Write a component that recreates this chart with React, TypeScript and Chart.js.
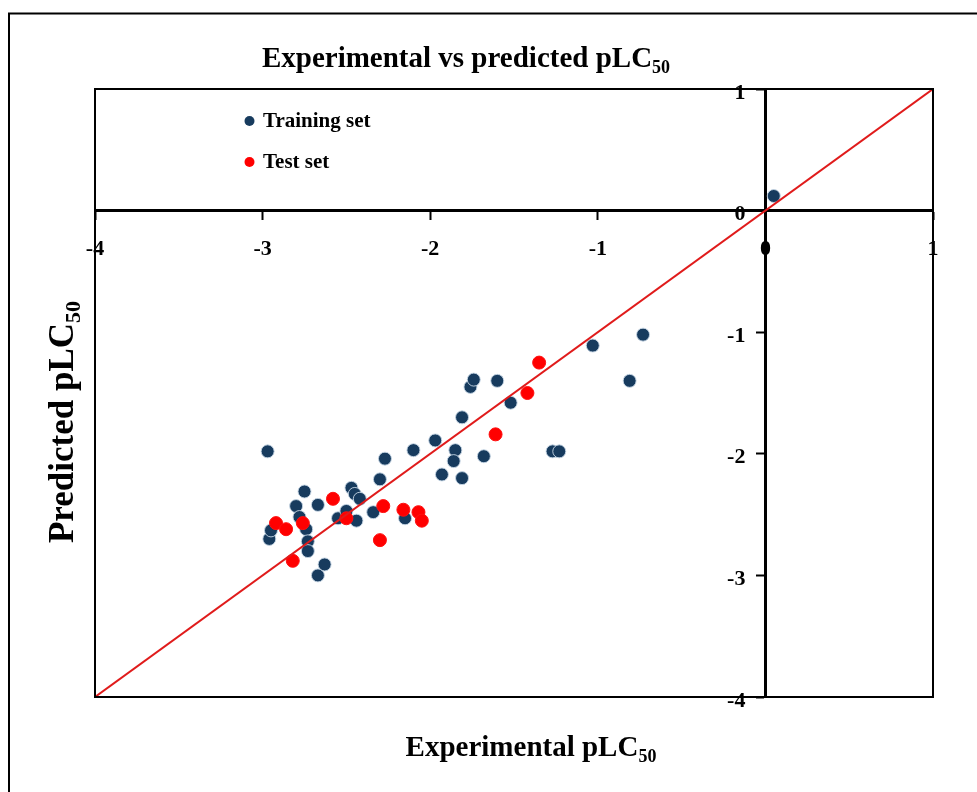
import React, { useEffect, useRef } from "react";
import { Chart, registerables } from "chart.js";

Chart.register(...registerables);

const FONT = '"Liberation Serif", "Times New Roman", Times, serif';

const trainingX = [-2.97, -2.96, -2.95, -2.8, -2.75, -2.78, -2.74, -2.73, -2.73, -2.67, -2.67, -2.63, -2.55, -2.5, -2.47, -2.45, -2.42, -2.44, -2.34, -2.3, -2.27, -2.15, -2.1, -1.97, -1.93, -1.85, -1.86, -1.81, -1.81, -1.76, -1.74, -1.68, -1.6, -1.52, -1.27, -1.23, -1.03, -0.81, -0.73, 0.05];
const trainingY = [-1.98, -2.7, -2.63, -2.43, -2.31, -2.52, -2.62, -2.72, -2.8, -2.42, -3.0, -2.91, -2.53, -2.47, -2.28, -2.33, -2.37, -2.55, -2.48, -2.21, -2.04, -2.53, -1.97, -1.89, -2.17, -1.97, -2.06, -2.2, -1.7, -1.45, -1.39, -2.02, -1.4, -1.58, -1.98, -1.98, -1.11, -1.4, -1.02, 0.12];

const testX = [-2.92, -2.86, -2.76, -2.82, -2.58, -2.5, -2.28, -2.3, -2.16, -2.07, -2.05, -1.61, -1.42, -1.35];
const testY = [-2.57, -2.62, -2.57, -2.88, -2.37, -2.53, -2.43, -2.71, -2.46, -2.48, -2.55, -1.84, -1.5, -1.25];

const idealX = [-4, 1];
const idealY = [-4, 1];

const axisMin = -4;
const axisMax = 1;
const tickStep = 1;

const seriesNames = ["Training set", "Test set"];
const chartTitle = ["Experimental vs predicted pLC", "50"];
const xTitle = ["Experimental pLC", "50"];
const yTitle = ["Predicted pLC", "50"];

function drawSubText(ctx: CanvasRenderingContext2D, parts: string[], size: number, subSize: number, subDrop: number) {
  ctx.font = `bold ${size}px ${FONT}`;
  const w1 = ctx.measureText(parts[0]).width;
  ctx.font = `bold ${subSize}px ${FONT}`;
  const w2 = ctx.measureText(parts[1]).width;
  const total = w1 + w2;
  ctx.textAlign = "left";
  ctx.textBaseline = "alphabetic";
  ctx.font = `bold ${size}px ${FONT}`;
  ctx.fillText(parts[0], -total / 2, 0);
  ctx.font = `bold ${subSize}px ${FONT}`;
  ctx.fillText(parts[1], -total / 2 + w1, subDrop);
}

const decorPlugin = {
  id: "decor",
  beforeDraw(chart: any) {
    const ctx = chart.ctx as CanvasRenderingContext2D;
    ctx.save();
    ctx.fillStyle = "#ffffff";
    ctx.fillRect(0, 0, chart.width, chart.height);
    ctx.strokeStyle = "#000";
    ctx.lineWidth = 2;
    ctx.beginPath();
    ctx.moveTo(9, chart.height);
    ctx.lineTo(9, 13.5);
    ctx.lineTo(chart.width, 13.5);
    ctx.stroke();
    ctx.restore();
    // shift y tick labels left of the crossing axis
    const ys = chart.scales.y;
    if (ys && ys.getLabelItems) {
      const items = ys.getLabelItems();
      if (!ys.__shifted) {
        for (const it of items) {
          if (it.options && it.options.translation) {
            it.options.translation[0] -= 20;
            it.options.translation[1] += 4;
          }
        }
        ys.__shifted = true;
      }
    }
  },
  afterDraw(chart: any) {
    const ctx = chart.ctx as CanvasRenderingContext2D;
    const a = chart.chartArea;
    ctx.save();
    ctx.strokeStyle = "#000";
    ctx.lineWidth = 2;
    ctx.strokeRect(a.left, a.top, a.right - a.left, a.bottom - a.top);

    ctx.fillStyle = "#000";
    ctx.save();
    ctx.translate(466, 67);
    drawSubText(ctx, chartTitle, 29, 18, 6);
    ctx.restore();
    ctx.save();
    ctx.translate(531, 756);
    drawSubText(ctx, xTitle, 29, 18, 6);
    ctx.restore();
    ctx.save();
    ctx.translate(73, 422);
    ctx.rotate(-Math.PI / 2);
    drawSubText(ctx, yTitle, 35, 22, 7);
    ctx.restore();

    const ds = chart.data.datasets;
    const rows = [121, 162];
    for (let i = 0; i < 2; i++) {
      ctx.beginPath();
      ctx.fillStyle = ds[i].backgroundColor;
      ctx.arc(249.5, rows[i], 5, 0, Math.PI * 2);
      ctx.fill();
      ctx.fillStyle = "#000";
      ctx.font = `bold 21px ${FONT}`;
      ctx.textAlign = "left";
      ctx.textBaseline = "middle";
      ctx.fillText(ds[i].label, 263, rows[i] + 1);
    }
    ctx.restore();
  },
};

export default function App() {
  const ref = useRef<HTMLCanvasElement | null>(null);

  useEffect(() => {
    if (!ref.current) return;
    const tickFont = { family: FONT, size: 22, weight: "bold" as const };
    const chart = new Chart(ref.current, {
      type: "scatter",
      data: {
        datasets: [
          {
            label: seriesNames[0],
            data: trainingX.map((x, i) => ({ x, y: trainingY[i] })),
            backgroundColor: "#173b5e",
            borderColor: "rgba(200,215,230,0.9)",
            borderWidth: 1,
            pointRadius: 6.5,
            order: 2,
          },
          {
            label: seriesNames[1],
            data: testX.map((x, i) => ({ x, y: testY[i] })),
            backgroundColor: "#ff0000",
            borderColor: "#ff1010",
            borderWidth: 1,
            pointRadius: 6.5,
            order: 1,
          },
          {
            type: "line",
            label: "ideal",
            data: idealX.map((x, i) => ({ x, y: idealY[i] })),
            borderColor: "#e01b1b",
            borderWidth: 2,
            pointRadius: 0,
            showLine: true,
            fill: false,
            order: 0,
          } as any,
        ],
      },
      options: {
        responsive: false,
        animation: false,
        layout: { padding: { left: 95, right: 44, top: 89, bottom: 95 } },
        plugins: {
          legend: { display: false },
          title: { display: false },
          tooltip: { enabled: false },
        },
        scales: {
          x: {
            type: "linear",
            min: axisMin,
            max: axisMax,
            position: { y: 0 } as any,
            ticks: { stepSize: tickStep, font: tickFont, color: "#000", padding: 18, maxRotation: 0 },
            grid: { drawOnChartArea: false, drawTicks: true, tickLength: 8, tickWidth: 2, tickColor: "#000" },
            border: { display: true, color: "#000", width: 3 },
          },
          y: {
            type: "linear",
            min: axisMin,
            max: axisMax,
            position: { x: 0 } as any,
            ticks: { stepSize: tickStep, font: tickFont, color: "#000", padding: 10 },
            grid: { drawOnChartArea: false, drawTicks: true, tickLength: 8, tickWidth: 2, tickColor: "#000" },
            border: { display: true, color: "#000", width: 3 },
          },
        },
      },
      plugins: [decorPlugin],
    });
    return () => chart.destroy();
  }, []);

  return (
    <div style={{ position: "absolute", left: 0, top: 0, width: 977, height: 792, background: "#fff" }}>
      <canvas ref={ref} width={977} height={792} style={{ width: 977, height: 792, display: "block" }} />
    </div>
  );
}
